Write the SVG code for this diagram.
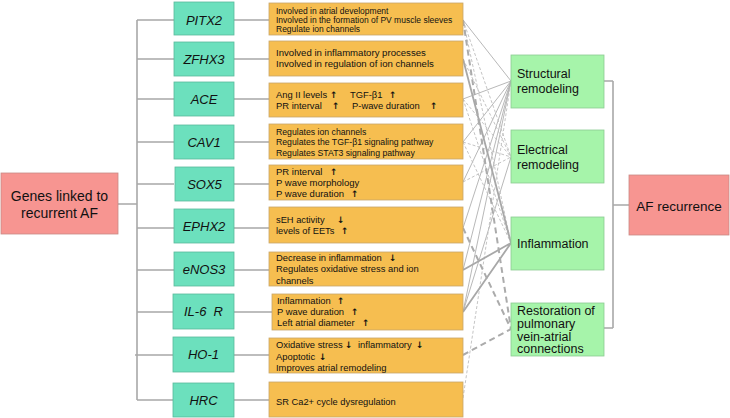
<svg xmlns="http://www.w3.org/2000/svg" width="730" height="418" viewBox="0 0 730 418">
<style>
text{font-family:"Liberation Sans",Arial,sans-serif;fill:#111}
text.ar{font-family:"DejaVu Sans",sans-serif;font-weight:bold;font-size:9px}
.red{fill:#F79591;stroke:#C98A86;stroke-width:0.8}
.gene{fill:#6CE0BD;stroke:#5BB99C;stroke-width:0.8}
.tb{fill:#F6BE50;stroke:#C9A66A;stroke-width:0.8}
.gb{fill:#A6F4AA;stroke:#8CCB92;stroke-width:0.8}
.gl{font-size:13px;font-style:italic;text-anchor:middle}
.tree{stroke:#A8A8A8;stroke-width:1.6;fill:none}
.ts{stroke:#B0B0B0;stroke-width:0.9;fill:none}
.td{stroke:#BDBDBD;stroke-width:0.9;fill:none;stroke-dasharray:3 2}
.ms{stroke:#A8A8A8;stroke-width:1.8;fill:none}
.md{stroke:#ABABAB;stroke-width:2;fill:none;stroke-dasharray:6 4}
.rb{font-size:12.5px}
</style>
<g id="connectors">
<path class="tree" d="M118,204H137M137,20V400M137,20H174M137,59H174M137,99H174M137,142H174M137,184H174M137,228H174M137,270H174M137,312H174M135,355H174M137,400H174"/>
<path class="tree" d="M234,20H269M234,59H269M234,99H269M234,142H269M234,184H269M234,228H269M234,270H269M234,312H272M234,355H269M234,400H269"/>
<path class="tree" d="M604,81H613M613,81V328M604,328H613M613,205H629"/>
<g>
<path class="ts" d="M463,20L511,81M463,99L511,81M463,142L511,81M463,182L511,81M463,228L511,81M463,270L511,81M463,312L511,81M463,312L511,157"/>
<path class="td" d="M463,20L511,157M463,59L511,157M463,99L511,157M463,142L511,157M463,182L511,157M463,20L511,243M463,99L511,243M463,142L511,243M463,398L511,81"/>
<path class="ms" d="M463,59L511,243M463,270L511,243M463,312L511,243"/>
<path class="md" d="M463,20L511,329M463,228L511,329M463,355L511,329"/>
</g>
</g>
<g id="n-genes"><rect class="red" x="1" y="173" width="117" height="61"/><text x="59.5" y="201" font-size="14" text-anchor="middle">Genes linked to</text><text x="59.5" y="218" font-size="14" text-anchor="middle">recurrent AF</text></g>
<g id="n-pitx2"><rect class="gene" x="174" y="2" width="60" height="33"/><text class="gl" x="204" y="24.5">PITX2</text></g>
<g id="n-zfhx3"><rect class="gene" x="174" y="42" width="60" height="34"/><text class="gl" x="204" y="63.5">ZFHX3</text></g>
<g id="n-ace"><rect class="gene" x="174" y="82" width="60" height="34"/><text class="gl" x="204" y="103.5">ACE</text></g>
<g id="n-cav1"><rect class="gene" x="174" y="125" width="60" height="34"/><text class="gl" x="204" y="146.5">CAV1</text></g>
<g id="n-sox5"><rect class="gene" x="175" y="167" width="59" height="34"/><text class="gl" x="204.5" y="188.5">SOX5</text></g>
<g id="n-ephx2"><rect class="gene" x="174" y="209" width="60" height="34"/><text class="gl" x="204" y="230.5">EPHX2</text></g>
<g id="n-enos3"><rect class="gene" x="174" y="252" width="60" height="34"/><text class="gl" x="204" y="273.5">eNOS3</text></g>
<g id="n-il6r"><rect class="gene" x="173" y="294" width="61" height="35"/><text class="gl" x="203.5" y="316" xml:space="preserve">IL-6  R</text></g>
<g id="n-ho1"><rect class="gene" x="173" y="337" width="61" height="35"/><text class="gl" x="203.5" y="359">HO-1</text></g>
<g id="n-hrc"><rect class="gene" x="173" y="383" width="61" height="34"/><text class="gl" x="203.5" y="404.5">HRC</text></g>

<g id="t-pitx2"><rect class="tb" x="269" y="3" width="194" height="32"/><g font-size="8.5"><text x="276" y="13.8">Involved in atrial development</text><text x="276" y="23">Involved in the formation of PV muscle sleeves</text><text x="276" y="32.3">Regulate ion channels</text></g></g>
<g id="t-zfhx3"><rect class="tb" x="269" y="41" width="194" height="35"/><g font-size="9.6"><text x="276" y="56.4">Involved in inflammatory processes</text><text x="276" y="67.4">Involved in regulation of ion channels</text></g></g>
<g id="t-ace"><rect class="tb" x="269" y="83" width="194" height="34"/><g font-size="9.4"><text x="276" y="98.3">Ang II levels</text><text class="ar" x="330" y="98.3">↑</text><text x="350" y="98.3">TGF-β1</text><text class="ar" x="389" y="98.3">↑</text><text x="276" y="109.3">PR interval</text><text class="ar" x="332" y="109.3">↑</text><text x="352" y="109.3">P-wave duration</text><text class="ar" x="430" y="109.3">↑</text></g></g>
<g id="t-cav1"><rect class="tb" x="269" y="124" width="194" height="35"/><g font-size="8.7"><text x="276" y="135">Regulates ion channels</text><text x="276" y="145.3">Regulates the TGF-β1 signaling pathway</text><text x="276" y="155.7">Regulates STAT3 signaling pathway</text></g></g>
<g id="t-sox5"><rect class="tb" x="269" y="165" width="194" height="35"/><g font-size="9.5"><text x="276" y="175.3">PR interval</text><text class="ar" x="330" y="175.3">↑</text><text x="276" y="186.3">P wave morphology</text><text x="276" y="197.3">P wave duration</text><text class="ar" x="351" y="197.3">↑</text></g></g>
<g id="t-ephx2"><rect class="tb" x="269" y="207" width="194" height="36"/><g font-size="9.3"><text x="276" y="223.3">sEH activity</text><text class="ar" x="337" y="223.3">↓</text><text x="276" y="234.3">levels of EETs</text><text class="ar" x="341" y="234.3">↑</text></g></g>
<g id="t-enos3"><rect class="tb" x="269" y="252" width="194" height="34"/><g font-size="9.4"><text x="276" y="261.3">Decrease in inflammation</text><text class="ar" x="389" y="261.3">↓</text><text x="276" y="272.3">Regulates oxidative stress and ion</text><text x="276" y="284">channels</text></g></g>
<g id="t-il6r"><rect class="tb" x="272" y="294" width="191" height="36"/><g font-size="9.4"><text x="277" y="304.3">Inflammation</text><text class="ar" x="337" y="304.3">↑</text><text x="277" y="315.3">P wave duration</text><text class="ar" x="351" y="315.3">↑</text><text x="277" y="326.3">Left atrial diameter</text><text class="ar" x="362" y="326.3">↑</text></g></g>
<g id="t-ho1"><rect class="tb" x="269" y="338" width="194" height="35"/><g font-size="9.4"><text x="276" y="348.3">Oxidative stress</text><text class="ar" x="345" y="348.3">↓</text><text x="358" y="348.3">inflammatory</text><text class="ar" x="416" y="348.3">↓</text><text x="276" y="360">Apoptotic</text><text class="ar" x="319" y="360">↓</text><text x="276" y="371.3">Improves atrial remodeling</text></g></g>
<g id="t-hrc"><rect class="tb" x="269" y="382" width="194" height="35"/><text x="276" y="405.3" font-size="9.3">SR Ca2+ cycle dysregulation</text></g>

<g id="n-structural"><rect class="gb" x="511" y="55" width="93" height="53"/><text class="rb" x="517" y="78.4">Structural</text><text class="rb" x="517" y="93.4">remodeling</text></g>
<g id="n-electrical"><rect class="gb" x="511" y="130" width="93" height="53"/><text class="rb" x="517" y="154.4">Electrical</text><text class="rb" x="517" y="169.4">remodeling</text></g>
<g id="n-inflammation"><rect class="gb" x="511" y="217" width="93" height="53"/><text class="rb" x="517" y="248.4">Inflammation</text></g>
<g id="n-restoration"><rect class="gb" x="511" y="303" width="93" height="53"/><text class="rb" x="517" y="315.4">Restoration of</text><text class="rb" x="517" y="328">pulmonary</text><text class="rb" x="517" y="340.7">vein-atrial</text><text class="rb" x="517" y="353.4">connections</text></g>
<g id="n-af"><rect class="red" x="629" y="175" width="100" height="60"/><text x="679" y="210.5" font-size="13.5" text-anchor="middle">AF recurrence</text></g>
</svg>
